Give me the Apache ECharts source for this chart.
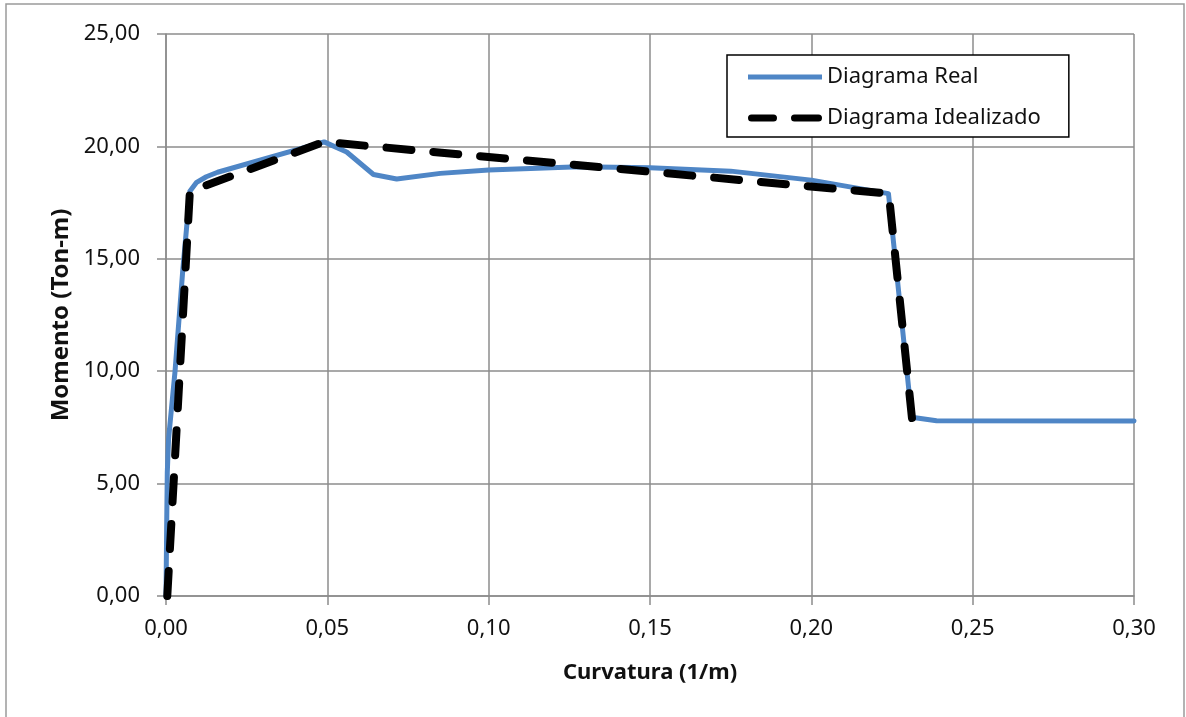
<!DOCTYPE html>
<html>
<head>
<meta charset="utf-8">
<script src="https://cdn.jsdelivr.net/npm/echarts@6/dist/echarts.min.js"></script>
<style>
html,body{margin:0;padding:0;background:#fff;}
#c{width:1186px;height:717px;}
</style>
</head>
<body>
<div id="c"></div>
<script>
// Data
const curvReal = [0, 0.0002, 0.0004, 0.0008, 0.0028, 0.0052, 0.0074, 0.0095, 0.0125, 0.016, 0.049, 0.056, 0.0643, 0.0715, 0.085, 0.100, 0.128, 0.150, 0.175, 0.200, 0.2239, 0.2311, 0.2388, 0.300];
const momReal  = [0, 3.0, 5.5, 7.0, 10.0, 14.5, 18.0, 18.4, 18.65, 18.85, 20.2, 19.75, 18.75, 18.55, 18.8, 18.95, 19.1, 19.05, 18.9, 18.5, 17.9, 7.95, 7.8, 7.78];
const curvIdeal = [0.0004, 0.0074, 0.049, 0.224, 0.2312];
const momIdeal  = [0, 18.0, 20.2, 17.9, 7.9];
const seriesNames = ['Diagrama Real', 'Diagrama Idealizado'];
const xAxisTitle = 'Curvatura (1/m)';
const yAxisTitle = 'Momento (Ton-m)';

const fmt = v => v.toFixed(2).replace('.', ',');
const zip = (a, b) => a.map((x, i) => [x, b[i]]);

const blue = '#4f86c6';
const chart = echarts.init(document.getElementById('c'), null, {renderer: 'canvas'});
const gridColor = '#8c8c8c';
chart.setOption({
  animation: false,
  backgroundColor: '#fff',
  textStyle: {fontFamily: '"Noto Sans", sans-serif'},
  graphic: [{
    type: 'rect', silent: true, z: -1,
    shape: {x: 6, y: 4, width: 1178, height: 720},
    style: {fill: 'none', stroke: '#9a9a9a', lineWidth: 1.5}
  }],
  grid: {left: 166, right: 52, top: 34, bottom: 121, containLabel: false},
  legend: {
    left: 727, top: 55,
    orient: 'vertical',
    backgroundColor: '#fff',
    borderColor: '#000', borderWidth: 1.5, borderRadius: 0,
    padding: [11, 28, 8, 21],
    itemGap: 19,
    itemWidth: 74, itemHeight: 14,
    symbolKeepAspect: true,
    textStyle: {fontSize: 22, color: '#111', fontFamily: '"Noto Sans", sans-serif'},
    data: [{
      name: seriesNames[0],
      icon: 'path://M0,0 H74 V5 H0 Z',
      itemStyle: {color: blue, borderWidth: 0}
    }, {
      name: seriesNames[1],
      icon: 'path://M3.5,0 H25.5 A3.5,3.5 0 0 1 25.5,7 H3.5 A3.5,3.5 0 0 1 3.5,0 Z M46.5,0 H70.5 A3.5,3.5 0 0 1 70.5,7 H46.5 A3.5,3.5 0 0 1 46.5,0 Z',
      itemStyle: {color: '#000', borderWidth: 0}
    }]
  },
  xAxis: {
    type: 'value', min: 0, max: 0.3, interval: 0.05,
    name: xAxisTitle, nameLocation: 'middle', nameGap: 66,
    nameTextStyle: {fontSize: 22, fontWeight: 'bold', color: '#111'},
    axisLine: {show: true, lineStyle: {color: gridColor, width: 1.5}},
    axisTick: {show: true, length: 9, lineStyle: {color: gridColor, width: 1.5}},
    axisLabel: {fontSize: 22, color: '#111', margin: 22, formatter: fmt},
    splitLine: {show: true, lineStyle: {color: gridColor, width: 1.5}}
  },
  yAxis: {
    type: 'value', min: 0, max: 25, interval: 5,
    name: yAxisTitle, nameLocation: 'middle', nameGap: 93, nameRotate: 90,
    nameTextStyle: {fontSize: 24, fontWeight: 'bold', color: '#111'},
    axisLine: {show: true, lineStyle: {color: gridColor, width: 1.5}},
    axisTick: {show: true, length: 9, lineStyle: {color: gridColor, width: 1.5}},
    axisLabel: {fontSize: 22, color: '#111', margin: 26, formatter: fmt},
    splitLine: {show: true, lineStyle: {color: gridColor, width: 1.5}}
  },
  series: [{
    name: seriesNames[0], type: 'line', symbol: 'none', z: 2,
    data: zip(curvReal, momReal),
    lineStyle: {color: blue, width: 5, cap: 'round', join: 'round'},
    itemStyle: {color: blue}
  }, {
    name: seriesNames[1], type: 'line', symbol: 'none', z: 3,
    data: zip(curvIdeal, momIdeal),
    lineStyle: {color: '#000', width: 8, type: [25, 22], cap: 'round', join: 'round'},
    itemStyle: {color: '#000'}
  }]
});
</script>
</body>
</html>
